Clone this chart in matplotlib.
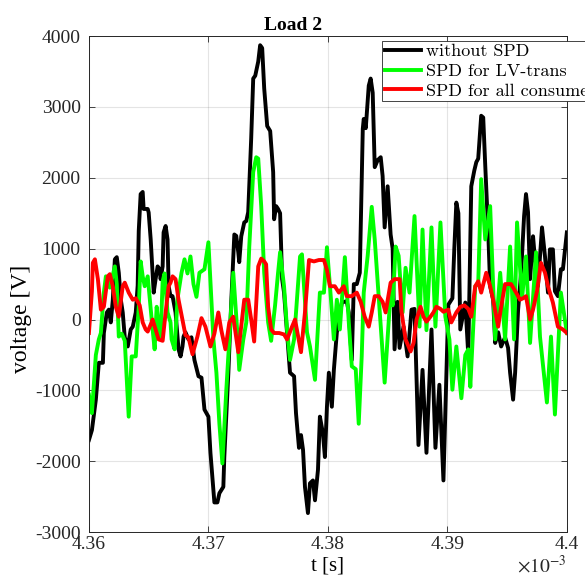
import numpy as np
import matplotlib
matplotlib.use("Agg")
import matplotlib.pyplot as plt
from matplotlib.ticker import FuncFormatter, MultipleLocator

# time offsets in microseconds from t0 = 4.36 ms, voltages in V
T0 = 4.36e-3

t_black = [0.0, 0.25, 0.58, 0.83, 1.17, 1.25, 1.5, 1.67, 1.83, 2.0, 2.17, 2.33, 2.5, 2.67, 2.83,
           3.0, 3.25, 3.5, 3.67, 3.92, 4.08, 4.17, 4.33, 4.5, 4.58, 4.92, 5.0, 5.17, 5.33, 5.42,
           5.58, 5.75, 5.92, 6.0, 6.17, 6.25, 6.42, 6.58, 6.67, 6.83, 7.0, 7.25, 7.5, 7.67, 7.83,
           7.92, 8.08, 8.33, 8.58, 8.83, 9.17, 9.42, 9.67, 10.0, 10.17, 10.42, 10.5, 10.75, 10.92,
           11.25, 11.33, 11.67, 11.92, 12.17, 12.33, 12.5, 12.58, 12.75, 13.0, 13.17, 13.33, 13.58,
           13.75, 13.92, 14.17, 14.33, 14.5, 14.67, 14.92, 15.17, 15.42, 15.5, 15.67, 15.83, 16.0,
           16.17, 16.33, 16.58, 16.83, 17.17, 17.33, 17.58, 17.75, 17.92, 18.08, 18.33, 18.5, 18.75,
           18.92, 19.17, 19.33, 19.58, 19.75, 19.92, 20.08, 20.33, 20.5, 20.75, 20.92, 21.17, 21.58,
           21.75, 22.0, 22.17, 22.42, 22.67, 22.75, 22.92, 23.0, 23.17, 23.42, 23.58, 23.75, 23.92,
           24.17, 24.42, 24.58, 24.75, 25.0, 25.25, 25.42, 25.58, 25.83, 26.0, 26.33, 26.67, 27.0,
           27.25, 27.58, 27.92, 28.25, 28.67, 29.0, 29.33, 29.67, 30.08, 30.42, 30.58, 30.75, 30.92,
           31.08, 31.5, 31.75, 32.0, 32.25, 32.42, 32.58, 32.83, 33.0, 33.17, 33.42, 33.58, 33.83,
           34.0, 34.25, 34.5, 34.83, 35.08, 35.25, 35.5, 35.67, 35.92, 36.17, 36.42, 36.58, 36.75,
           36.92, 37.17, 37.33, 37.58, 37.92, 38.17, 38.42, 38.58, 38.83, 39.0, 39.25, 39.5, 39.67,
           40.0]
v_black = [-1700, -1560, -1130, -610, -610, -190, 100, 140, -40, 280, 850, 880, 660, 280, 100,
           -250, -380, -140, -100, 100, 480, 1250, 1770, 1800, 1560, 1560, 1510, 1130, 660, 380,
           570, 750, 710, 570, 750, 1230, 1320, 1130, 470, 330, 330, 100, -420, -520, -380,
           -240, -180, -280, -250, -570, -800, -820, -1270, -1370, -1880, -2410, -2580, -2580, -2450,
           -2360, -1940, -750, 280, 1200, 1180, 950, 810, 1175, 1370, 1390, 1515, 2550,
           3400, 3440, 3640, 3870, 3830, 3260, 2730, 2660, 2080, 1415, 1600, 1560, 1500,
           570, 380, -180, -750, -800, -1320, -1810, -1630, -1840, -2360, -2730, -2310, -2270,
           -2550, -2120, -1370, -1600, -1940, -1230, -750, -1230, -710, -180, 0, 240, 260,
           100, -570, 500, 500, 660, 1320, 2690, 2830, 2700, 3300, 3400, 3200, 2150,
           2250, 2290, 2025, 1300, 1880, 1200, 1000, -420, 250, -400, -100, -520, 140,
           150, -1770, -710, -1880, -140, -1810, -920, -2270, 210, 300, 1000, 1650, 1500,
           -140, 240, -500, 1880, 2100, 2220, 2270, 2875, 2850, 2170, 1230, 470, 280,
           -330, -180, -380, -250, -400, -750, -1130, -750, 140, 660, 1460, 1770, 1515,
           570, 1175, 850, 470, 1300, 890, 380, 990, 990, 400, 330, 710, 710,
           1230]

t_green = [0.0, 0.25, 0.58, 0.83, 1.0, 1.25, 1.42, 1.75, 2.17, 2.33, 2.5, 2.75, 3.0, 3.33, 3.58,
           3.92, 4.17, 4.33, 4.5, 4.67, 4.92, 5.08, 5.33, 5.5, 5.67, 5.83, 6.0, 6.17, 6.33, 6.58,
           6.83, 6.92, 7.17, 7.42, 7.75, 8.0, 8.25, 8.5, 8.75, 9.0, 9.25, 9.67, 10.0, 10.42, 10.67,
           10.92, 11.17, 11.5, 11.75, 12.08, 12.42, 12.58, 12.92, 13.17, 13.42, 13.75, 14.0, 14.17,
           14.42, 14.67, 15.0, 15.25, 15.58, 15.83, 16.0, 16.33, 16.58, 16.83, 17.17, 17.67, 17.83,
           18.25, 18.5, 18.92, 19.33, 19.67, 19.92, 20.25, 20.5, 20.75, 21.0, 21.42, 21.75, 22.0,
           22.33, 22.58, 22.83, 23.0, 23.33, 23.67, 23.92, 24.33, 24.75, 25.0, 25.25, 25.42, 25.67,
           25.92, 26.25, 26.5, 26.83, 27.25, 27.67, 27.92, 28.25, 28.67, 29.0, 29.42, 29.83, 30.17,
           30.42, 30.75, 31.17, 31.5, 31.75, 31.92, 32.33, 32.58, 32.83, 33.17, 33.58, 34.0, 34.42,
           34.83, 35.25, 35.58, 35.83, 36.25, 36.58, 36.92, 37.42, 37.75, 38.33, 38.67, 39.0, 39.5,
           40.0]
v_green = [-1060, -1320, -500, -280, -190, 380, 610, 450, 750, 500, -240, -200, -300, -1370, -520,
           -520, 180, 820, 610, 470, 610, 320, -140, -420, 180, -100, -240, 540, 650, 100,
           -40, -280, -420, 300, 660, 850, 650, 890, 500, 320, 660, 710, 1090, -280, -750,
           -1470, -2030, -990, -280, 660, -180, -710, -280, -40, 1030, 2080, 2290, 2270,
           1600, 660, -40, -300, 200, 660, 950, 470, -140, -570, -280, 890, 920,
           -180, -380, -850, 380, 380, 1020, 300, -280, 280, -140, 880, -40, -660,
           -700, -1470, -520, 380, 900, 1590, 1130, 140, -890, -250, 380, 200, 1030,
           900, 100, 730, 380, 1460, -100, 1270, -150, 1300, -100, 1370, 40, -280,
           -990, -380, -1110, -500, -420, -950, 470, 500, 1980, 1130, 1600, -280, 660,
           -280, 1030, -280, 1370, 300, 890, -330, 950, -240, -1170, -240, -1340, 380,
           -190]

t_red = [0.0, 0.25, 0.33, 0.5, 0.75, 1.0, 1.25, 1.58, 1.75, 2.0, 2.25, 2.5, 2.83, 3.0, 3.33,
         3.67, 3.92, 4.25, 4.5, 4.75, 4.92, 5.17, 5.33, 5.58, 5.83, 6.17, 6.42, 6.67, 6.83, 7.0,
         7.25, 7.5, 7.83, 8.08, 8.33, 8.67, 9.08, 9.42, 9.75, 10.17, 10.5, 10.83, 11.08, 11.42,
         11.75, 12.08, 12.5, 13.0, 13.33, 13.58, 13.83, 14.17, 14.42, 14.67, 14.83, 15.0, 15.25,
         15.5, 15.92, 16.33, 16.58, 17.0, 17.25, 17.75, 18.08, 18.42, 18.83, 19.25, 19.67, 19.92,
         20.17, 20.58, 20.92, 21.33, 21.58, 22.0, 22.42, 22.75, 23.08, 23.42, 23.67, 23.92, 24.25,
         24.58, 24.83, 25.25, 25.58, 26.0, 26.17, 26.5, 26.92, 27.17, 27.42, 27.75, 28.0, 28.25,
         28.58, 28.83, 29.08, 29.42, 29.67, 30.08, 30.33, 30.75, 31.08, 31.42, 31.75, 32.0, 32.33,
         32.58, 32.83, 33.25, 33.58, 33.83, 34.25, 34.5, 34.83, 35.33, 35.75, 36.08, 36.33, 36.58,
         36.92, 37.17, 37.5, 37.83, 38.17, 38.42, 38.83, 39.25, 39.67, 40.0]
v_red = [-190, 400, 800, 850, 570, 140, 180, 610, 640, 470, 180, 40, 470, 520, 380,
         280, 300, 200, -40, -140, -170, -70, 0, -140, -280, -300, 100, 470, 520, 610,
         570, 280, 0, -220, -250, -490, -240, 20, -100, -380, -200, 100, -150, -420,
         -40, 40, -460, 280, 280, 0, -310, 750, 860, 820, 780, 180, -140,
         -190, -190, -210, -280, -100, 0, -460, 100, 840, 820, 840, 840, 700,
         470, 470, 380, 470, 330, 330, 380, 250, 40, -100, 100, 330, 330,
         250, 100, 520, 570, 570, 100, -280, -450, -330, 0, 180, 40, -30,
         40, 100, 180, 150, 110, 140, -40, 100, 180, 200, 150, 40, 470,
         540, 380, 660, 470, 280, -100, 180, 500, 500, 380, 280, 300, 330,
         0, 140, 400, 800, 660, 470, 240, -100, -140, -190]

labels = ["without SPD", "SPD for LV-trans", "SPD for all consumers"]
colors = ["#000000", "#00ff00", "#ff0000"]

plt.rcParams['font.family'] = ['Liberation Serif', 'DejaVu Serif']
plt.rcParams['mathtext.fontset'] = 'stix'
plt.rcParams['axes.unicode_minus'] = False

fig = plt.figure(figsize=(5.85, 5.81), dpi=100)
ax = fig.add_axes([0.152, 0.084, 0.817, 0.854])

series = [(t_black, v_black), (t_green, v_green), (t_red, v_red)]
for (tt, vv), lab, col in zip(series, labels, colors):
    t = T0 + np.array(tt) * 1e-6
    ax.plot(t, vv, color=col, lw=2.8, label=lab, solid_joinstyle='round')

ax.set_xlim(4.36e-3, 4.40e-3)
ax.set_ylim(-3000, 4000)
ax.xaxis.set_major_locator(MultipleLocator(0.01e-3))
ax.yaxis.set_major_locator(MultipleLocator(1000))
ax.xaxis.set_major_formatter(FuncFormatter(lambda v, p: '%g' % round(v * 1e3, 4)))
ax.yaxis.set_major_formatter(FuncFormatter(lambda v, p: '%d' % round(v)))

ax.grid(True, color='#262626', alpha=0.12, lw=0.8)
ax.set_axisbelow(True)
for s in ax.spines.values():
    s.set_color('#262626')
    s.set_linewidth(0.7)
ax.tick_params(direction='in', top=True, right=True, length=4, width=0.6,
               colors='#262626', labelsize=14, labelcolor='#262626')
ax.tick_params(axis='x', pad=3)
ax.tick_params(axis='y', pad=6)

ax.set_title('Load 2', fontsize=14, fontweight='bold', pad=4, x=0.427)
ax.set_xlabel('t [s]', fontsize=15, labelpad=2)
ax.set_ylabel('voltage [V]', fontsize=17, labelpad=0)
ax.yaxis.set_label_coords(-0.12, 0.43)
fig.text(0.969, 0.008, r'$\times10^{-3}$', fontsize=14, ha='right', va='bottom', color='#262626')

leg = ax.legend(loc='upper left', bbox_to_anchor=(0.613, 0.99), fancybox=False,
                framealpha=1, edgecolor='#262626', prop={'family': 'cmr10', 'size': 13},
                handlelength=2.0, handletextpad=0.3, borderpad=0.15, labelspacing=0.22,
                borderaxespad=0)
leg.get_frame().set_linewidth(0.6)

fig.savefig('out.png', dpi=100)
